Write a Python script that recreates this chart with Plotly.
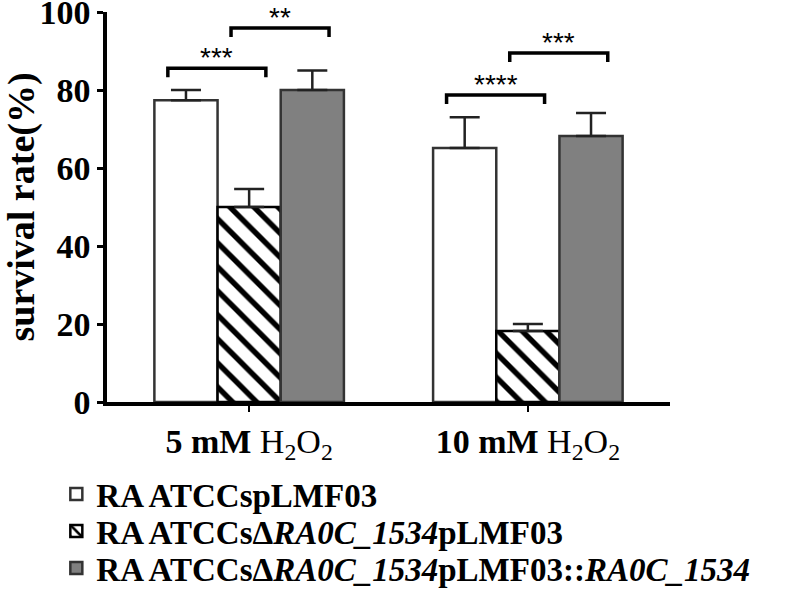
import plotly.graph_objects as go

# data
groups = ["<b>5 mM</b> H<sub>2</sub>O<sub>2</sub>", "<b>10 mM</b> H<sub>2</sub>O<sub>2</sub>"]
strains = [
    "RA ATCCspLMF03",
    "RA ATCCsΔ<i>RA0C_1534</i>pLMF03",
    "RA ATCCsΔ<i>RA0C_1534</i>pLMF03::<i>RA0C_1534</i>",
]
means = [
    [77.4, 65.1],
    [50.0, 18.2],
    [80.0, 68.2],
]
sem = [
    [2.6, 7.9],
    [4.6, 1.8],
    [5.0, 5.9],
]
# (group index, bar a, bar b, bracket height, label)
comparisons = [
    (0, 0, 1, 85.6, "***"),
    (0, 1, 2, 95.9, "**"),
    (1, 0, 1, 78.7, "****"),
    (1, 1, 2, 89.5, "***"),
]

fills = ["white", "white", "#808080"]
patterns = ["", "\\", ""]
edges = ["#333333", "black", "#333333"]
legend_ids = ["legend", "legend2", "legend3"]
legend_y = [-0.236, -0.331, -0.426]

serif = "Liberation Serif"
bargap = 0.32

fig = go.Figure()
for i, name in enumerate(strains):
    fig.add_trace(go.Bar(
        x=[0, 1], y=means[i], name=name, legend=legend_ids[i], showlegend=True,
        marker=dict(color=fills[i], line=dict(color=edges[i], width=2.5),
                    pattern=dict(shape=patterns[i], fgcolor="black", bgcolor="white",
                                 fgopacity=1, size=17, solidity=0.32)),
        error_y=dict(type="data", symmetric=False, array=sem[i], arrayminus=[0, 0],
                     color="#222222", thickness=2.5, width=15),
    ))

# significance brackets from bar positions
bw = (1 - bargap) / 3
drop = 2.3
for g, a, b, h, lab in comparisons:
    xa = g + (a - 1) * bw - 0.065
    xb = g + (b - 1) * bw + 0.06
    fig.add_shape(type="path",
                  path=f"M {xa} {h - drop} L {xa} {h} L {xb} {h} L {xb} {h - drop}",
                  line=dict(color="black", width=3.5), xref="x", yref="y")
    fig.add_annotation(x=(xa + xb) / 2, y=h, text=lab, showarrow=False,
                       yanchor="bottom", yshift=-7,
                       font=dict(family="Liberation Sans", size=28, color="black"))

legend_style = dict(x=-0.09, xanchor="left", yanchor="middle", itemwidth=30,
                    bgcolor="rgba(0,0,0,0)",
                    font=dict(family=serif, size=33, color="black", weight="bold"))

fig.update_layout(
    width=800, height=605,
    margin=dict(l=107, r=130, t=12, b=203, autoexpand=False),
    plot_bgcolor="white", paper_bgcolor="white",
    showlegend=True,
    barmode="group", bargap=bargap, bargroupgap=0,
    font=dict(family=serif, color="black"),
    xaxis=dict(
        range=[-0.51, 1.51], tickvals=[0, 1], ticktext=groups,
        showline=True, linecolor="black", linewidth=3.5,
        ticks="outside", ticklen=6, tickwidth=2, tickcolor="black",
        tickfont=dict(family=serif, size=34, color="black"),
        showgrid=False, zeroline=False,
    ),
    yaxis=dict(
        range=[0, 100], tickvals=[0, 20, 40, 60, 80, 100],
        showline=True, linecolor="black", linewidth=3.5,
        ticks="outside", ticklen=6, tickwidth=3, tickcolor="black",
        tickfont=dict(family=serif, size=34, color="black", weight="bold"),
        ticklabeloverflow="allow",
        showgrid=False, zeroline=False,
        title=dict(text="survival rate(%)", standoff=6,
                   font=dict(family=serif, size=38, color="black", weight="bold")),
    ),
    legend=dict(y=legend_y[0], **legend_style),
    legend2=dict(y=legend_y[1], **legend_style),
    legend3=dict(y=legend_y[2], **legend_style),
)

# drop the browser's default body margin so the figure sits at the page corner
fig.write_html("out.html", config={"displayModeBar": False},
               post_script="document.body.style.margin = '0';")
